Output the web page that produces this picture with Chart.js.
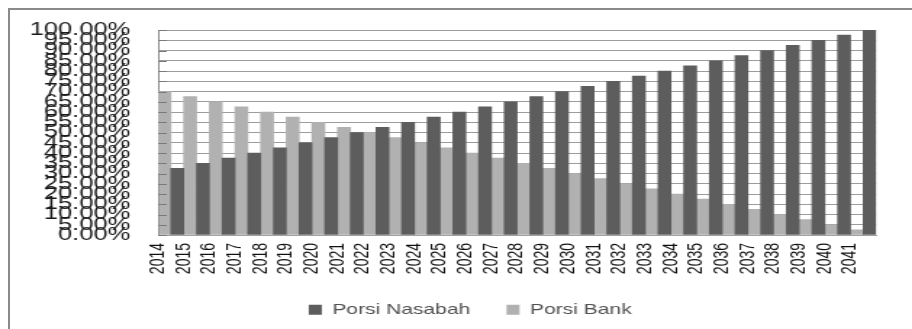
<!DOCTYPE html>
<html><head><meta charset="utf-8">
<script src="https://cdn.jsdelivr.net/npm/chart.js@4/dist/chart.umd.min.js"></script>
<style>
html,body{margin:0;padding:0;background:#fff;overflow:hidden;width:912px;height:329px;}
#frame{position:absolute;left:8px;top:8px;width:1000px;height:400px;border-left:2px solid #8a8a8a;border-top:2px solid #8a8a8a;}
#wrap{position:absolute;left:0;top:0;width:629px;height:329px;transform:scaleX(1.45);transform-origin:0 0;}
</style></head><body>
<div id="frame"></div>
<div id="wrap"><canvas id="c"></canvas></div>
<script>
const categories = ['2014','2015','2016','2017','2018','2019','2020','2021','2022','2023','2024','2025','2026','2027','2028','2029','2030','2031','2032','2033','2034','2035','2036','2037','2038','2039','2040','2041',''];
const porsiNasabah = [30,32.5,35,37.5,40,42.5,45,47.5,50,52.5,55,57.5,60,62.5,65,67.5,70,72.5,75,77.5,80,82.5,85,87.5,90,92.5,95,97.5,100];
const porsiBank = [70,67.5,65,62.5,60,57.5,55,52.5,50,47.5,45,42.5,40,37.5,35,32.5,30,27.5,25,22.5,20,17.5,15,12.5,10,7.5,5,2.5,0];
const yTickValues = [0,5,10,15,20,25,30,35,40,45,50,55,60,65,70,75,80,85,90,95,100];
const seriesNames = ['Porsi Nasabah','Porsi Bank'];

const PLOT_BOTTOM = 235;
const PAD_BOTTOM = 2;

// let the (overlapping, wide) y tick labels extend left of the axis box without being clipped
const widenYLabelArea = {
  id: 'widenYLabelArea',
  afterLayout(chart) { chart.scales.y.left = 0; }
};

// short "inside" major tick marks on the value axis, drawn over the bars
const insideTicks = {
  id: 'insideTicks',
  afterDatasetsDraw(chart) {
    const y = chart.scales.y, ctx = chart.ctx, left = chart.chartArea.left;
    ctx.save();
    ctx.strokeStyle = '#7a7a7a';
    ctx.lineWidth = 1;
    y.ticks.forEach(t => {
      const py = Math.round(y.getPixelForValue(t.value)) + 0.5;
      ctx.beginPath();
      ctx.moveTo(left, py);
      ctx.lineTo(left + 6, py);
      ctx.stroke();
    });
    ctx.restore();
  }
};

new Chart(document.getElementById('c'), {
  type: 'bar',
  data: {
    labels: categories,
    datasets: [
      {label: seriesNames[0], data: porsiNasabah, backgroundColor: '#5d5d5d', borderWidth: 0, clip: 0},
      {label: seriesNames[1], data: porsiBank, backgroundColor: '#b1b1b1', borderWidth: 0, clip: 0}
    ]
  },
  plugins: [widenYLabelArea, insideTicks],
  options: {
    responsive: true,
    maintainAspectRatio: false,
    animation: false,
    events: [],
    layout: {padding: {left: 30, right: 10.4, top: 30, bottom: PAD_BOTTOM}},
    datasets: {bar: {barPercentage: 1, categoryPercentage: 1}},
    plugins: {
      legend: {
        position: 'bottom',
        labels: {
          boxWidth: 9, boxHeight: 10, padding: 25,
          color: '#505050',
          font: {family: '"Liberation Sans", Arial, sans-serif', size: 14.5}
        }
      },
      tooltip: {enabled: false}
    },
    scales: {
      x: {
        offset: false,
        grid: {display: false, offset: false, drawTicks: false},
        border: {display: true, color: '#a0a0a0', width: 1},
        ticks: {
          autoSkip: false, minRotation: 90, maxRotation: 90, padding: 8,
          color: '#111111',
          font: {family: '"Liberation Sans", Arial, sans-serif', size: 14}
        },
        afterFit: s => { s.height = s.chart.height - PAD_BOTTOM - s.chart.legend.height - PLOT_BOTTOM; }
      },
      y: {
        min: 0, max: 100,
        afterBuildTicks: s => { s.ticks = yTickValues.map(v => ({value: v})); },
        grid: {color: '#9c9c9c', lineWidth: 1, drawTicks: false},
        border: {display: true, color: '#8a8a8a', width: 1},
        ticks: {
          autoSkip: false, padding: 19.3,
          color: '#1a1a1a',
          font: {family: '"Liberation Sans", Arial, sans-serif', size: 17.5},
          callback: v => v.toFixed(2) + '%'
        },
        afterFit: s => { s.width = 79; }
      }
    }
  }
});
</script>
</body></html>
